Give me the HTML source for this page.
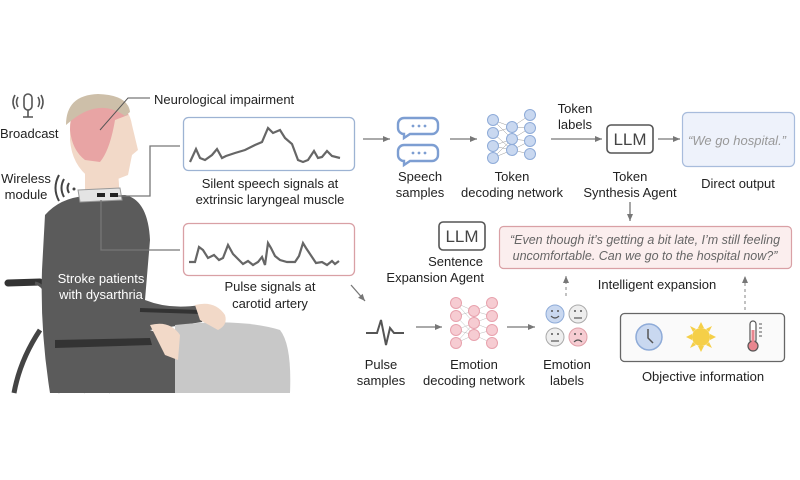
<!DOCTYPE html>
<html><head><meta charset="utf-8"><style>
html,body{margin:0;padding:0;background:#fff;}
svg{display:block;font-family:"Liberation Sans",sans-serif;}
</style></head><body>
<svg width="800" height="480" viewBox="0 0 800 480" xmlns="http://www.w3.org/2000/svg">
<defs>
<marker id="ah" markerWidth="8" markerHeight="8" refX="7" refY="4" orient="auto" markerUnits="userSpaceOnUse"><path d="M0,1 L7,4 L0,7 z" fill="#777"/></marker>
</defs>
<rect width="800" height="480" fill="#fff"/>

<!-- wheelchair -->
<g stroke="#555" fill="none">
<path d="M8,283 L40,282" stroke="#333" stroke-width="7" stroke-linecap="round"/>
<path d="M35,283 Q45,285 48,300 L60,393" stroke-width="3"/>
<path d="M40,330 Q20,360 14,393" stroke="#444" stroke-width="5"/>
<path d="M55,345 L110,393 M50,360 L85,393" stroke="#888" stroke-width="1"/>
</g>
<!-- torso -->
<path d="M45,215 Q60,198 85,196 L125,195 Q148,200 150,240 L145,300 Q170,310 200,305 Q208,310 202,322 L150,330 L175,340 L175,393 L50,393 Q40,330 42,270 Z" fill="#5b5b5b"/>
<path d="M55,340 L150,338 L152,345 L55,348 Z" fill="#333"/>
<path d="M140,310 L200,312" stroke="#333" stroke-width="4"/>
<!-- blanket -->
<path d="M175,325 Q240,318 280,330 Q292,345 290,393 L175,393 Z" fill="#c8c8c8"/>
<!-- hands -->
<path d="M195,305 Q215,300 225,315 Q228,325 218,330 L200,320 Z" fill="#f2d9c8"/>
<path d="M150,325 Q170,320 180,335 L178,360 L165,355 Z" fill="#f2d9c8"/>
<!-- neck & head -->
<path d="M85,170 L118,170 L120,200 L85,200 Z" fill="#f2d9c8"/>
<path d="M70,125 Q72,100 100,98 Q128,100 132,125 L138,150 L132,155 L128,175 L110,182 L90,178 Q72,165 70,140 Z" fill="#f2d9c8"/>
<path d="M70,130 Q70,100 100,98 Q125,98 128,115 L115,120 Q110,150 100,162 L85,160 Q72,150 70,130 Z" fill="#e8a4a4"/>
<path d="M66,125 Q66,95 98,94 Q128,95 130,112 L125,116 Q100,98 72,120 Z" fill="#cdbfa9"/>
<path d="M78,190 L120,188 L122,200 L80,202 Z" fill="#e4e4e4" stroke="#999" stroke-width="1"/>
<rect x="97" y="193" width="8" height="4" fill="#222"/><rect x="110" y="193" width="8" height="4" fill="#222"/>
<text x="101" y="283" fill="#fff" font-size="13" text-anchor="middle">Stroke patients</text>
<text x="101" y="299" fill="#fff" font-size="13" text-anchor="middle">with dysarthria</text>

<!-- broadcast -->
<g stroke="#555" fill="none" stroke-width="1.6">
<rect x="24" y="94" width="8" height="16" rx="4"/>
<path d="M28,110 L28,117 M23,117 L33,117"/>
<path d="M18,97 Q15,102 18,107 M38,97 Q41,102 38,107 M15,95 Q11,102 15,109 M41,95 Q45,102 41,109"/>
</g>
<text x="0" y="138" font-size="13" fill="#222">Broadcast</text>
<text x="26" y="183" font-size="13" fill="#222" text-anchor="middle">Wireless</text>
<text x="26" y="199" font-size="13" fill="#222" text-anchor="middle">module</text>
<g stroke="#444" fill="none" stroke-width="2">
<path d="M69,183 Q66,188 69,193 M64,179 Q59,188 64,197 M59,175 Q52,188 59,201"/>
</g>
<circle cx="74" cy="189" r="1.5" fill="#444"/>

<!-- neuro label -->
<path d="M100,130 L128,98 L150,98" stroke="#555" fill="none"/>
<text x="154" y="104" font-size="13" fill="#222">Neurological impairment</text>

<!-- connectors -->
<path d="M118,196 L150,196 L150,146 L180,146" stroke="#777" fill="none" stroke-width="1.3"/>
<path d="M101,200 L101,250 L180,250" stroke="#777" fill="none" stroke-width="1.3"/>

<!-- signal boxes -->
<rect x="183.5" y="117.5" width="171" height="53" rx="5" fill="#fff" stroke="#9db3d3" stroke-width="1.3"/>
<polyline points="190,162 196,149 200,158 205,160 212,155 217,149 222,158 226,156 235,153 245,150 255,145 262,142 268,128 273,133 280,130 285,138 292,144 298,160 303,162 308,160 314,151 318,158 322,157 327,151 332,156 340,158" fill="none" stroke="#666" stroke-width="2.2"/>
<text x="270" y="188" font-size="13" fill="#222" text-anchor="middle">Silent speech signals at</text>
<text x="270" y="204" font-size="13" fill="#222" text-anchor="middle">extrinsic laryngeal muscle</text>
<rect x="183.5" y="223.5" width="171" height="52" rx="5" fill="#fff" stroke="#d9a0a5" stroke-width="1.3"/>
<polyline points="189,262 195,262 199,247 203,250 208,258 214,255 219,260 223,258 228,245 233,254 238,259 243,264 248,261 253,265 258,262 262,257 265,265 268,243 271,248 275,256 280,260 287,262 295,262 299,256 303,243 306,248 312,257 316,263 322,262 327,265 332,261 335,264 339,261" fill="none" stroke="#666" stroke-width="2.2"/>
<text x="270" y="291" font-size="13" fill="#222" text-anchor="middle">Pulse signals at</text>
<text x="270" y="308" font-size="13" fill="#222" text-anchor="middle">carotid artery</text>

<!-- arrows -->
<g stroke="#777" stroke-width="1.3" marker-end="url(#ah)">
<line x1="363" y1="139" x2="390" y2="139"/>
<line x1="450" y1="139" x2="477" y2="139"/>
<line x1="551" y1="139" x2="602" y2="139"/>
<line x1="658" y1="139" x2="680" y2="139"/>
<line x1="630" y1="202" x2="630" y2="221"/>
<line x1="351" y1="285" x2="365" y2="301"/>
<line x1="416" y1="327" x2="442" y2="327"/>
<line x1="507" y1="327" x2="535" y2="327"/>
</g>
<g stroke="#999" stroke-width="1.2" stroke-dasharray="3,3" marker-end="url(#ah)">
<line x1="566" y1="296" x2="566" y2="276"/>
<line x1="745" y1="310" x2="745" y2="276"/>
</g>

<!-- speech bubbles -->
<g stroke="#7d9ed2" stroke-width="2.4" fill="#fff">
<path d="M404,118 h28 a6,6 0 0 1 6,6 v4 a6,6 0 0 1 -6,6 h-22 l-6,4 v-4 a6,6 0 0 1 -6,-6 v-4 a6,6 0 0 1 6,-6 z"/>
<path d="M404,145 h28 a6,6 0 0 1 6,6 v4 a6,6 0 0 1 -6,6 h-22 l-6,4 v-4 a6,6 0 0 1 -6,-6 v-4 a6,6 0 0 1 6,-6 z"/>
</g>
<g fill="#7d9ed2"><circle cx="413" cy="126" r="1.4"/><circle cx="419" cy="126" r="1.4"/><circle cx="425" cy="126" r="1.4"/><circle cx="413" cy="153" r="1.4"/><circle cx="419" cy="153" r="1.4"/><circle cx="425" cy="153" r="1.4"/></g>
<text x="420" y="181" font-size="13" fill="#222" text-anchor="middle">Speech</text>
<text x="420" y="197" font-size="13" fill="#222" text-anchor="middle">samples</text>

<!-- token net -->
<g stroke="#999" stroke-width="0.5">
<path d="M493,120 L512,127 M493,120 L512,139 M493,133 L512,127 M493,133 L512,150 M493,146 L512,139 M493,146 L512,150 M493,158 L512,150 M493,158 L512,139 M512,127 L530,115 M512,127 L530,128 M512,139 L530,141 M512,139 L530,128 M512,150 L530,154 M512,150 L530,141"/>
</g>
<g fill="#c9d8f0" stroke="#8eabd8" stroke-width="1">
<circle cx="493" cy="120" r="5.5"/><circle cx="493" cy="133" r="5.5"/><circle cx="493" cy="146" r="5.5"/><circle cx="493" cy="158" r="5.5"/>
<circle cx="512" cy="127" r="5.5"/><circle cx="512" cy="139" r="5.5"/><circle cx="512" cy="150" r="5.5"/>
<circle cx="530" cy="115" r="5.5"/><circle cx="530" cy="128" r="5.5"/><circle cx="530" cy="141" r="5.5"/><circle cx="530" cy="154" r="5.5"/>
</g>
<text x="512" y="181" font-size="13" fill="#222" text-anchor="middle">Token</text>
<text x="512" y="197" font-size="13" fill="#222" text-anchor="middle">decoding network</text>
<text x="575" y="113" font-size="13" fill="#222" text-anchor="middle">Token</text>
<text x="575" y="129" font-size="13" fill="#222" text-anchor="middle">labels</text>

<!-- LLM boxes -->
<rect x="607" y="125" width="46" height="28" rx="4" fill="#fff" stroke="#555" stroke-width="1.6"/>
<text x="630" y="145" font-size="17" fill="#444" text-anchor="middle">LLM</text>
<text x="630" y="181" font-size="13" fill="#222" text-anchor="middle">Token</text>
<text x="630" y="197" font-size="13" fill="#222" text-anchor="middle">Synthesis Agent</text>
<rect x="439" y="222" width="46" height="28" rx="4" fill="#fff" stroke="#555" stroke-width="1.6"/>
<text x="462" y="242" font-size="17" fill="#444" text-anchor="middle">LLM</text>
<text x="483" y="266" font-size="13" fill="#222" text-anchor="end">Sentence</text>
<text x="484" y="282" font-size="13" fill="#222" text-anchor="end">Expansion Agent</text>

<!-- direct output -->
<rect x="682.5" y="112.5" width="112" height="54" rx="5" fill="#eef2fb" stroke="#a8bcdc" stroke-width="1.2"/>
<text x="737" y="145" font-size="13" fill="#999" font-style="italic" text-anchor="middle">“We go hospital.”</text>
<text x="738" y="188" font-size="13" fill="#222" text-anchor="middle">Direct output</text>

<!-- expansion box -->
<rect x="499.5" y="226.5" width="292" height="42" rx="4" fill="#fbeeee" stroke="#d9a0a5" stroke-width="1.2"/>
<text x="645" y="244" font-size="12.5" fill="#666" font-style="italic" text-anchor="middle">“Even though it’s getting a bit late, I’m still feeling</text>
<text x="645" y="260" font-size="12.5" fill="#666" font-style="italic" text-anchor="middle">uncomfortable. Can we go to the hospital now?”</text>
<text x="657" y="289" font-size="13" fill="#222" text-anchor="middle">Intelligent expansion</text>

<!-- pulse samples -->
<polyline points="366,333 377,333 381,320 386,345 390,328 394,333 404,333" fill="none" stroke="#555" stroke-width="2"/>
<text x="381" y="369" font-size="13" fill="#222" text-anchor="middle">Pulse</text>
<text x="381" y="385" font-size="13" fill="#222" text-anchor="middle">samples</text>

<!-- emotion net -->
<g stroke="#bbb" stroke-width="0.5">
<path d="M456,303 L474,311 M456,303 L474,323 M456,316 L474,311 M456,316 L474,335 M456,330 L474,323 M456,330 L474,335 M456,343 L474,335 M456,343 L474,323 M474,311 L492,303 M474,311 L492,316 M474,323 L492,330 M474,323 L492,316 M474,335 L492,343 M474,335 L492,330"/>
</g>
<g fill="#f6ccd2" stroke="#e8a2ad" stroke-width="1">
<circle cx="456" cy="303" r="5.5"/><circle cx="456" cy="316" r="5.5"/><circle cx="456" cy="330" r="5.5"/><circle cx="456" cy="343" r="5.5"/>
<circle cx="474" cy="311" r="5.5"/><circle cx="474" cy="323" r="5.5"/><circle cx="474" cy="335" r="5.5"/>
<circle cx="492" cy="303" r="5.5"/><circle cx="492" cy="316" r="5.5"/><circle cx="492" cy="330" r="5.5"/><circle cx="492" cy="343" r="5.5"/>
</g>
<text x="474" y="369" font-size="13" fill="#222" text-anchor="middle">Emotion</text>
<text x="474" y="385" font-size="13" fill="#222" text-anchor="middle">decoding network</text>

<!-- emojis -->
<g stroke-width="1">
<circle cx="555" cy="314" r="9" fill="#c9d8f0" stroke="#8eabd8"/>
<circle cx="578" cy="314" r="9" fill="#eee" stroke="#aaa"/>
<circle cx="555" cy="337" r="9" fill="#eee" stroke="#aaa"/>
<circle cx="578" cy="337" r="9" fill="#f6ccd2" stroke="#e0a0a8"/>
</g>
<g stroke="#555" stroke-width="1.2" fill="none">
<path d="M551,316 Q555,320 559,316"/><path d="M574,318 L582,318"/><path d="M551,341 L559,341"/><path d="M574,342 Q578,338 582,342"/>
</g>
<g fill="#555"><circle cx="552" cy="311" r="1"/><circle cx="558" cy="311" r="1"/><circle cx="575" cy="311" r="1"/><circle cx="581" cy="311" r="1"/><circle cx="552" cy="334" r="1"/><circle cx="558" cy="334" r="1"/><circle cx="575" cy="334" r="1"/><circle cx="581" cy="334" r="1"/></g>
<text x="567" y="369" font-size="13" fill="#222" text-anchor="middle">Emotion</text>
<text x="567" y="385" font-size="13" fill="#222" text-anchor="middle">labels</text>

<!-- objective info -->
<rect x="620.5" y="313.5" width="164" height="48" rx="4" fill="#fafafa" stroke="#666" stroke-width="1.3"/>
<circle cx="649" cy="337" r="13" fill="#c9d8f0" stroke="#8eabd8" stroke-width="1.5"/>
<path d="M648,329 L648,338 L653,343" stroke="#555" stroke-width="1.5" fill="none"/>
<g fill="#f5cf48">
<circle cx="701" cy="337" r="9"/>
<polygon points="701,322 704,328 698,328"/><polygon points="701,352 704,346 698,346"/>
<polygon points="686,337 692,334 692,340"/><polygon points="716,337 710,334 710,340"/>
<polygon points="690,326 696,329 693,332"/><polygon points="712,326 706,329 709,332"/>
<polygon points="690,348 696,345 693,342"/><polygon points="712,348 706,345 709,342"/>
</g>
<rect x="750" y="321" width="6" height="22" rx="3" fill="#fff" stroke="#555" stroke-width="1.2"/>
<circle cx="753" cy="346" r="5" fill="#e8868f" stroke="#555" stroke-width="1.2"/>
<rect x="751.5" y="330" width="3" height="14" fill="#e8868f"/>
<path d="M759,324 h3 M759,328 h3 M759,332 h3 M759,336 h3" stroke="#555" stroke-width="1"/>
<text x="703" y="381" font-size="13" fill="#222" text-anchor="middle">Objective information</text>
</svg>
</body></html>
